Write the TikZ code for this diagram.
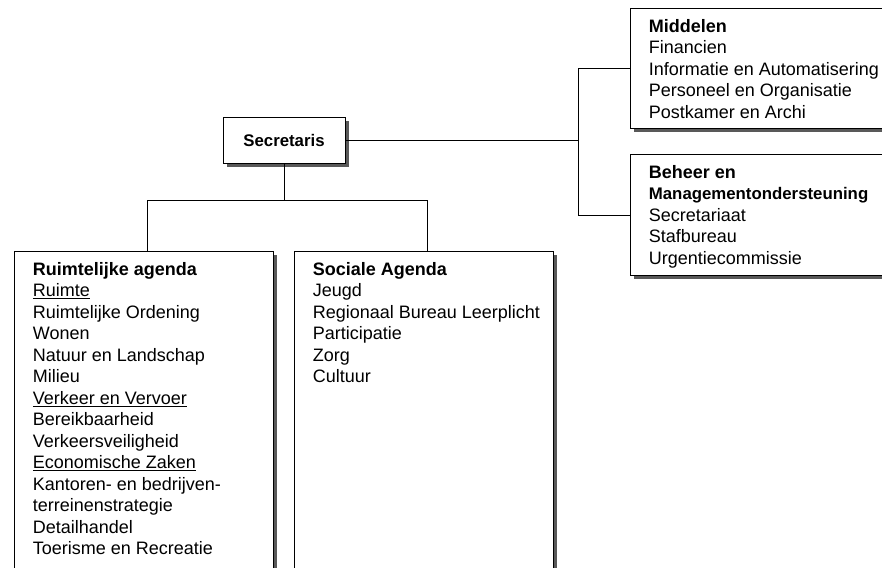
\documentclass[tikz,border=0pt]{standalone}
\usepackage{fontspec}
\setmainfont{Liberation Sans}
\usetikzlibrary{shadows}

\tikzset{
  unitbox/.style={draw=black, line width=0.8pt, fill=white, anchor=north west,
    inner xsep=0pt, inner ysep=11pt,
    drop shadow={shadow xshift=3.5pt, shadow yshift=-3.5pt, fill=black!65, opacity=1}},
  link/.style={draw=black, line width=0.8pt}
}
\newcommand{\unitlist}[3]{\parbox[t][#1][t]{#2}{\raggedright\leftskip=18.5pt
  \fontsize{18}{21.5}\selectfont #3}}

\begin{document}
\begin{tikzpicture}[x=1pt,y=-1pt]
                \clip (0,0) rectangle (882,567);
                % top
                \node[unitbox, anchor=center, inner sep=0pt, minimum width=122pt, minimum height=46pt,
                  font=\fontsize{16.8}{21.5}\selectfont\bfseries] (sec) at(284,140) {Secretaris};
                % right column
                \node[unitbox] (mid) at(630,8) {\unitlist{98pt}{262pt}{\textbf{Middelen}\\
                  Financien\\ Informatie en Automatisering\\ Personeel en Organisatie\\
                  Postkamer en Archi}};
                \node[unitbox] (beh) at(630,154) {\unitlist{99pt}{262pt}{\textbf{Beheer en}\\
                  {\fontsize{16.8}{21.5}\selectfont\textbf{Managementondersteuning}}\\ Secretariaat\\
                  Stafbureau\\ Urgentiecommissie}};
                % bottom row
                \node[unitbox] (rui) at(14,251) {\unitlist{318pt}{259pt}{\textbf{Ruimtelijke agenda}\\
                  \underline{Ruimte}\\ Ruimtelijke Ordening\\ Wonen\\ Natuur en Landschap\\ Milieu\\
                  \underline{Verkeer en Vervoer}\\ Bereikbaarheid\\ Verkeersveiligheid\\
                  \underline{Economische Zaken}\\ Kantoren- en bedrijven-\\ terreinenstrategie\\
                  Detailhandel\\ Toerisme en Recreatie}};
                \node[unitbox] (soc) at(294,251) {\unitlist{318pt}{259pt}{\textbf{Sociale Agenda}\\
                  Jeugd\\ Regionaal Bureau Leerplicht\\ Participatie\\ Zorg\\ Cultuur}};
                % connectors
                \coordinate (rbus) at(578,0);
                \coordinate (lbus) at(0,200);
                \draw[link] (sec.east) -- (sec.east -| rbus);
                \draw[link] (mid.west) -- (mid.west -| rbus) -- (beh.west -| rbus) -- (beh.west);
                \draw[link] (sec.south) -- (sec.south |- lbus);
                \draw[link] ([xshift=3.5pt]rui.north) -- ([xshift=3.5pt]rui.north |- lbus)
                  -- ([xshift=3.5pt]soc.north |- lbus) -- ([xshift=3.5pt]soc.north);
            \end{tikzpicture}
\end{document}
